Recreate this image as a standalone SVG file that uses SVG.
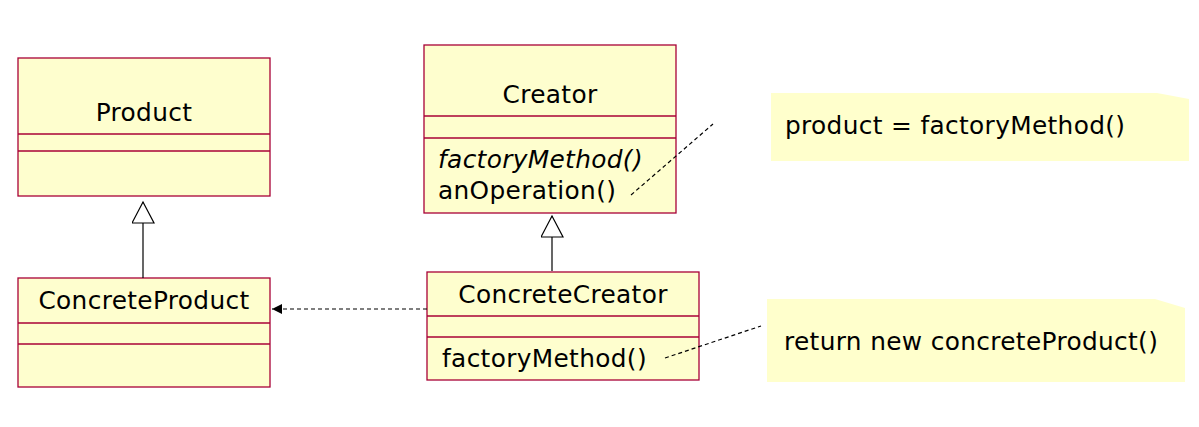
<svg xmlns="http://www.w3.org/2000/svg" width="1199" height="427" viewBox="0 0 1199 427">
<defs>
<style>
.box{fill:#FEFECE;stroke:#A80036;stroke-width:1.3}
.div{stroke:#A80036;stroke-width:1.3}
.t{font-family:"DejaVu Sans",Verdana,sans-serif;font-size:24.8px;letter-spacing:0.35px;fill:#000}
.c{text-anchor:middle}
.note{fill:#FFFFCC;stroke:none}
.edge{stroke:#000;stroke-width:1.2;fill:none}
.dash{stroke-dasharray:4 3}
</style>
<marker id="inh" markerWidth="24" markerHeight="24" refX="22" refY="11" orient="auto" markerUnits="userSpaceOnUse">
<path d="M1,0 L22,11 L1,22 Z" fill="#fff" stroke="#000" stroke-width="1.2"/>
</marker>
<marker id="dep" markerWidth="12" markerHeight="12" refX="10" refY="5" orient="auto" markerUnits="userSpaceOnUse">
<path d="M0,0 L10,5 L0,10 Z" fill="#000"/>
</marker>
</defs>
<rect width="1199" height="427" fill="#fff"/>
<g id="Product">
<rect class="box" x="18" y="58" width="252" height="138"/>
<line class="div" x1="18" y1="134" x2="270" y2="134"/>
<line class="div" x1="18" y1="151" x2="270" y2="151"/>
<text class="t c" x="144" y="121">Product</text>
</g>
<g id="ConcreteProduct">
<rect class="box" x="18" y="278" width="252" height="109"/>
<line class="div" x1="18" y1="323" x2="270" y2="323"/>
<line class="div" x1="18" y1="344" x2="270" y2="344"/>
<text class="t c" x="144" y="309">ConcreteProduct</text>
</g>
<g id="Creator">
<rect class="box" x="424" y="45" width="252" height="168"/>
<line class="div" x1="424" y1="116" x2="676" y2="116"/>
<line class="div" x1="424" y1="138" x2="676" y2="138"/>
<text class="t c" x="550" y="103">Creator</text>
<text class="t" x="438" y="168" font-style="italic">factoryMethod()</text>
<text class="t" x="438" y="199">anOperation()</text>
</g>
<g id="ConcreteCreator">
<rect class="box" x="427" y="272" width="272" height="108"/>
<line class="div" x1="427" y1="316" x2="699" y2="316"/>
<line class="div" x1="427" y1="337" x2="699" y2="337"/>
<text class="t c" x="563" y="303">ConcreteCreator</text>
<text class="t" x="442" y="367">factoryMethod()</text>
</g>
<g id="note1">
<path class="note" d="M771,93 L1157,93 L1189,99 L1189,161 L771,161 Z"/>
<text class="t" x="785" y="134">product = factoryMethod()</text>
</g>
<g id="note2">
<path class="note" d="M767,299 L1155,299 L1185,308 L1185,382 L767,382 Z"/>
<text class="t" x="784" y="350">return new concreteProduct()</text>
</g>
<g id="connectors">
<line class="edge" x1="143" y1="278" x2="143" y2="202" marker-end="url(#inh)"/>
<line class="edge" x1="552" y1="271" x2="552" y2="216" marker-end="url(#inh)"/>
<line class="edge dash" x1="427" y1="309" x2="272" y2="309" marker-end="url(#dep)"/>
<line class="edge dash" x1="631" y1="195" x2="713" y2="124"/>
<line class="edge dash" x1="665" y1="358" x2="761" y2="326"/>
</g>
</svg>
